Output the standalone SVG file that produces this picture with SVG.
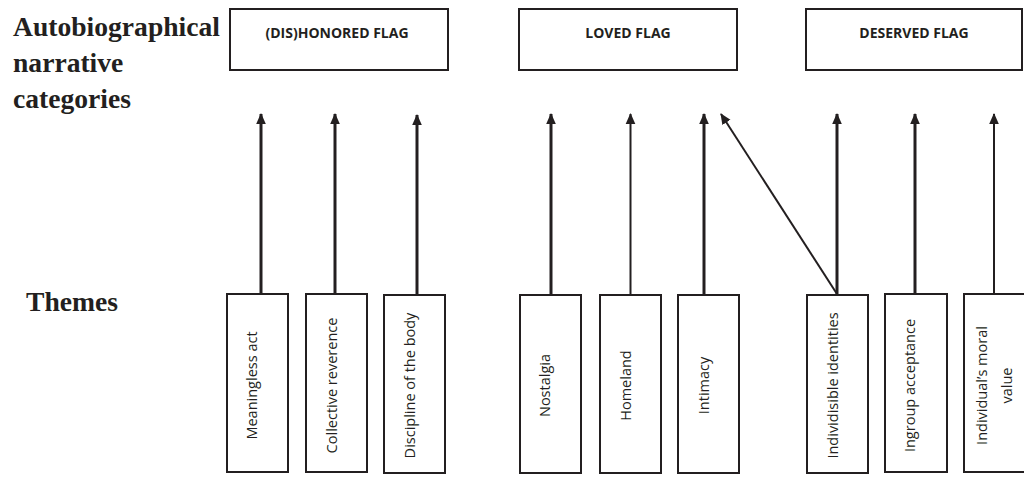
<svg xmlns="http://www.w3.org/2000/svg" width="1024" height="477" viewBox="0 0 1024 477">
<style>
.bg{fill:#ffffff}
.box{fill:#ffffff;stroke:#231f20;stroke-width:2}
.head{font-family:"Liberation Serif","Times New Roman",serif;font-weight:bold;font-size:27.6px;fill:#231f20}
.cat{font-family:"Open Sans","DejaVu Sans",sans-serif;font-weight:bold;font-size:14px;fill:#231f20;text-anchor:middle}
.theme{font-family:"Open Sans","DejaVu Sans",sans-serif;font-size:14.5px;fill:#231f20;text-anchor:middle}
.c{stroke:#231f20;fill:none}
.thick{stroke-width:3}
.thin{stroke-width:2}
</style>
<defs>
<marker id="ah" markerUnits="userSpaceOnUse" markerWidth="11" markerHeight="11" viewBox="0 0 11 11" refX="10" refY="5.5" orient="auto">
<polygon points="0,0.7 11,5.5 0,10.3" fill="#231f20"/>
</marker>
</defs>
<rect class="bg" x="0" y="0" width="1024" height="477"/>
<g id="labels">
<text class="head" x="13" y="36">Autobiographical</text>
<text class="head" x="13" y="72">narrative</text>
<text class="head" x="13" y="108">categories</text>
<text class="head" x="26" y="311">Themes</text>
</g>
<g id="connectors">
<line class="c thick" x1="261" y1="294" x2="261" y2="114" marker-end="url(#ah)"/>
<line class="c thick" x1="335" y1="294" x2="335" y2="114" marker-end="url(#ah)"/>
<line class="c thick" x1="417" y1="295" x2="417" y2="115" marker-end="url(#ah)"/>
<line class="c thick" x1="551" y1="295" x2="551" y2="114" marker-end="url(#ah)"/>
<line class="c thin" x1="630.5" y1="295" x2="630.5" y2="114" marker-end="url(#ah)"/>
<line class="c thick" x1="704" y1="295" x2="704" y2="114" marker-end="url(#ah)"/>
<line class="c thin" x1="837" y1="294" x2="721" y2="114" marker-end="url(#ah)"/>
<line class="c thick" x1="837" y1="295" x2="837" y2="114" marker-end="url(#ah)"/>
<line class="c thick" x1="915" y1="294" x2="915" y2="114" marker-end="url(#ah)"/>
<line class="c thin" x1="994" y1="294" x2="994" y2="114" marker-end="url(#ah)"/>
</g>
<g id="cat-dishonored"><rect class="box" x="230" y="9" width="218" height="61"/><text class="cat" x="337" y="38">(DIS)HONORED FLAG</text></g>
<g id="cat-loved"><rect class="box" x="519" y="9" width="218" height="61"/><text class="cat" x="628" y="38">LOVED FLAG</text></g>
<g id="cat-deserved"><rect class="box" x="806" y="9" width="216" height="61"/><text class="cat" x="914" y="38">DESERVED FLAG</text></g>
<g id="t-meaningless"><rect class="box" x="227" y="294" width="61" height="178"/><text class="theme" transform="translate(257,385.5) rotate(-90)">Meaningless act</text></g>
<g id="t-collective"><rect class="box" x="306" y="294" width="61" height="178"/><text class="theme" transform="translate(337,385.5) rotate(-90)">Collective reverence</text></g>
<g id="t-discipline"><rect class="box" x="384" y="295" width="61" height="178"/><text class="theme" transform="translate(415,385.5) rotate(-90)">Discipline of the body</text></g>
<g id="t-nostalgia"><rect class="box" x="520" y="295" width="61" height="178"/><text class="theme" transform="translate(550,385.5) rotate(-90)">Nostalgia</text></g>
<g id="t-homeland"><rect class="box" x="600" y="295" width="61" height="178"/><text class="theme" transform="translate(630.5,385.5) rotate(-90)">Homeland</text></g>
<g id="t-intimacy"><rect class="box" x="678" y="295" width="61" height="178"/><text class="theme" transform="translate(709,385.5) rotate(-90)">Intimacy</text></g>
<g id="t-individisible"><rect class="box" x="807" y="295" width="61" height="178"/><text class="theme" transform="translate(838,385.5) rotate(-90)">Individisible identities</text></g>
<g id="t-ingroup"><rect class="box" x="885" y="294" width="62" height="178"/><text class="theme" transform="translate(915,385.5) rotate(-90)">Ingroup acceptance</text></g>
<g id="t-individual"><rect class="box" x="964" y="294" width="62" height="178"/><text class="theme" transform="translate(987,385.5) rotate(-90)">Individual’s moral</text><text class="theme" transform="translate(1012,385.5) rotate(-90)">value</text></g>
</svg>
